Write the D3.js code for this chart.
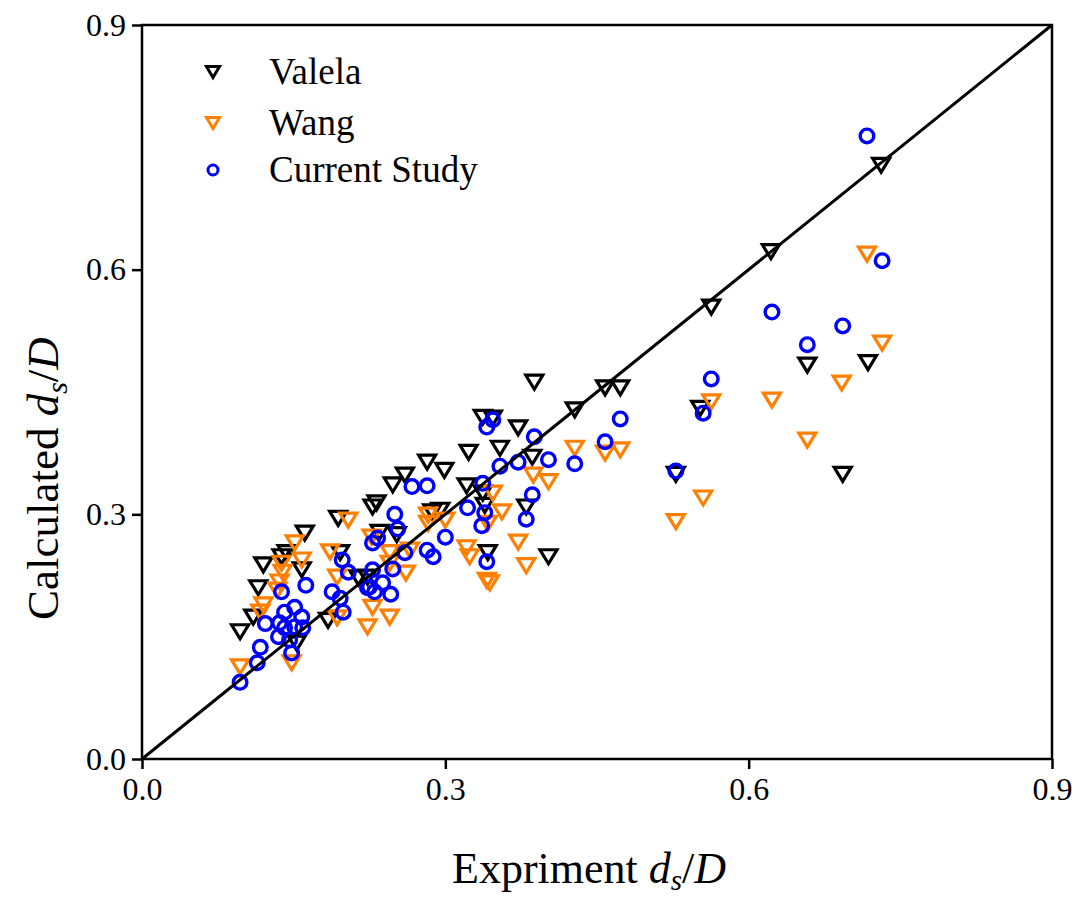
<!DOCTYPE html>
<html>
<head>
<meta charset="utf-8">
<script src="https://cdn.jsdelivr.net/npm/d3@7"></script>
<style>
  html, body { margin: 0; padding: 0; background: #fff; }
  text { font-family: "Liberation Serif", "Times New Roman", serif; }
</style>
</head>
<body>
<svg id="chart" width="1089" height="902"></svg>
<script>
// ---- data (Expriment ds/D, Calculated ds/D) ----
const valelaX = [0.097,0.110,0.115,0.120,0.138,0.143,0.161,0.158,0.153,0.194,0.196,0.184,0.223,0.214,0.228,0.232,0.235,0.248,0.252,0.260,0.282,0.299,0.287,0.295,0.321,0.323,0.337,0.347,0.339,0.337,0.342,0.354,0.372,0.386,0.380,0.388,0.402,0.428,0.458,0.473,0.528,0.552,0.563,0.622,0.658,0.693,0.718,0.731];
const valelaY = [0.156,0.174,0.210,0.238,0.248,0.253,0.277,0.232,0.142,0.295,0.253,0.170,0.223,0.222,0.309,0.314,0.278,0.336,0.275,0.348,0.364,0.354,0.303,0.305,0.335,0.376,0.419,0.418,0.311,0.326,0.253,0.381,0.406,0.370,0.309,0.462,0.248,0.428,0.455,0.455,0.349,0.430,0.554,0.622,0.483,0.349,0.486,0.728];

const wangX = [0.097,0.117,0.120,0.134,0.136,0.138,0.139,0.151,0.158,0.148,0.193,0.186,0.204,0.193,0.223,0.228,0.227,0.245,0.245,0.245,0.261,0.265,0.283,0.283,0.300,0.342,0.347,0.356,0.321,0.324,0.341,0.344,0.372,0.380,0.387,0.402,0.428,0.458,0.473,0.563,0.555,0.528,0.623,0.658,0.692,0.732,0.717];
const wangY = [0.113,0.180,0.189,0.207,0.217,0.240,0.229,0.265,0.244,0.118,0.223,0.254,0.293,0.173,0.162,0.186,0.272,0.253,0.240,0.174,0.228,0.256,0.299,0.289,0.293,0.289,0.326,0.303,0.259,0.248,0.219,0.216,0.266,0.237,0.348,0.340,0.381,0.375,0.379,0.438,0.320,0.291,0.440,0.391,0.461,0.510,0.619];

const currentX = [0.097,0.114,0.117,0.122,0.138,0.141,0.151,0.158,0.136,0.141,0.135,0.151,0.146,0.148,0.162,0.159,0.188,0.196,0.199,0.198,0.204,0.223,0.230,0.228,0.228,0.233,0.225,0.238,0.248,0.246,0.250,0.253,0.260,0.267,0.282,0.282,0.288,0.300,0.322,0.339,0.336,0.337,0.341,0.347,0.341,0.354,0.372,0.386,0.380,0.388,0.402,0.428,0.458,0.473,0.528,0.555,0.563,0.623,0.658,0.693,0.717,0.732];
const currentY = [0.094,0.118,0.137,0.166,0.205,0.180,0.186,0.174,0.167,0.161,0.150,0.162,0.146,0.130,0.213,0.161,0.205,0.197,0.180,0.244,0.229,0.210,0.205,0.232,0.265,0.271,0.211,0.216,0.233,0.202,0.300,0.282,0.253,0.334,0.335,0.256,0.248,0.272,0.308,0.302,0.286,0.338,0.407,0.416,0.242,0.359,0.364,0.324,0.294,0.395,0.367,0.362,0.389,0.417,0.353,0.424,0.466,0.548,0.508,0.531,0.764,0.611];

const tickValues = [0.0, 0.3, 0.6, 0.9];
const tickLabels = ["0.0", "0.3", "0.6", "0.9"];
const seriesNames = ["Valela", "Wang", "Current Study"];
const seriesColors = ["#000000", "#ff7f00", "#0000ff"];

// ---- layout ----
const svg = d3.select("#chart");
const pLeft = 142, pRight = 1052, pTop = 25, pBottom = 759;
const x = d3.scaleLinear().domain([0, 0.9]).range([pLeft, pRight]);
const y = d3.scaleLinear().domain([0, 0.9]).range([pBottom, pTop]);

const triPath = (w, h) => `M${-w/2},${-h/2} L${w/2},${-h/2} L0,${h/2} Z`;

function drawTriangles(xs, ys, color) {
  svg.append("g").selectAll("path")
    .data(xs.map((v, i) => [v, ys[i]]))
    .join("path")
    .attr("d", triPath(17, 14))
    .attr("transform", d => `translate(${x(d[0])},${y(d[1])})`)
    .attr("fill", "none")
    .attr("stroke", color)
    .attr("stroke-width", 3.2)
    .attr("stroke-linejoin", "miter");
}
drawTriangles(valelaX, valelaY, seriesColors[0]);
drawTriangles(wangX, wangY, seriesColors[1]);

svg.append("g").selectAll("circle")
  .data(currentX.map((v, i) => [v, currentY[i]]))
  .join("circle")
  .attr("cx", d => x(d[0]))
  .attr("cy", d => y(d[1]))
  .attr("r", 6.8)
  .attr("fill", "none")
  .attr("stroke", seriesColors[2])
  .attr("stroke-width", 3.4);

// diagonal y = x
svg.append("line")
  .attr("x1", x(0)).attr("y1", y(0))
  .attr("x2", x(0.9)).attr("y2", y(0.9))
  .attr("stroke", "#000").attr("stroke-width", 3);

// frame
svg.append("rect")
  .attr("x", pLeft).attr("y", pTop)
  .attr("width", pRight - pLeft).attr("height", pBottom - pTop)
  .attr("fill", "none").attr("stroke", "#000").attr("stroke-width", 2.5);

// axes
const xAxis = d3.axisBottom(x).tickValues(tickValues).tickFormat((d, i) => tickLabels[i]).tickSize(10).tickPadding(8);
const yAxis = d3.axisLeft(y).tickValues(tickValues).tickFormat((d, i) => tickLabels[i]).tickSize(10).tickPadding(6);

const gx = svg.append("g").attr("transform", `translate(0,${pBottom})`).call(xAxis);
const gy = svg.append("g").attr("transform", `translate(${pLeft},0)`).call(yAxis);
[gx, gy].forEach(g => {
  g.select(".domain").remove();
  g.selectAll(".tick line").attr("stroke", "#000").attr("stroke-width", 2.5);
  g.selectAll(".tick text").attr("fill", "#000")
    .style("font-family", "'Liberation Serif', serif").style("font-size", "32px");
});

// axis titles
const xt = svg.append("text").attr("x", 452).attr("y", 883)
  .attr("text-anchor", "start").style("font-size", "44px").attr("fill", "#000");
xt.append("tspan").text("Expriment ");
xt.append("tspan").attr("font-style", "italic").text("d");
xt.append("tspan").attr("font-style", "italic").attr("font-size", "29px").attr("dy", 7).text("s");
xt.append("tspan").attr("dy", -7).text("/");
xt.append("tspan").attr("font-style", "italic").text("D");

const yt = svg.append("text").attr("transform", "translate(58,620) rotate(-90)")
  .attr("text-anchor", "start").style("font-size", "45px").attr("fill", "#000");
yt.append("tspan").text("Calculated ");
yt.append("tspan").attr("font-style", "italic").text("d");
yt.append("tspan").attr("font-style", "italic").attr("font-size", "30px").attr("dy", 9).text("s");
yt.append("tspan").attr("dy", -9).text("/");
yt.append("tspan").attr("font-style", "italic").text("D");

// legend
const legendY = [72, 123, 170];
const lg = svg.append("g");
seriesNames.forEach((name, i) => {
  const cy = legendY[i];
  if (i < 2) {
    lg.append("path").attr("d", triPath(13, 11))
      .attr("transform", `translate(213,${cy})`)
      .attr("fill", "none").attr("stroke", seriesColors[i]).attr("stroke-width", 3);
  } else {
    lg.append("circle").attr("cx", 213).attr("cy", cy).attr("r", 5)
      .attr("fill", "none").attr("stroke", seriesColors[i]).attr("stroke-width", 3);
  }
  lg.append("text").attr("x", 269).attr("y", cy + 12)
    .style("font-size", "37px").attr("fill", "#000").text(name);
});
</script>
</body>
</html>
